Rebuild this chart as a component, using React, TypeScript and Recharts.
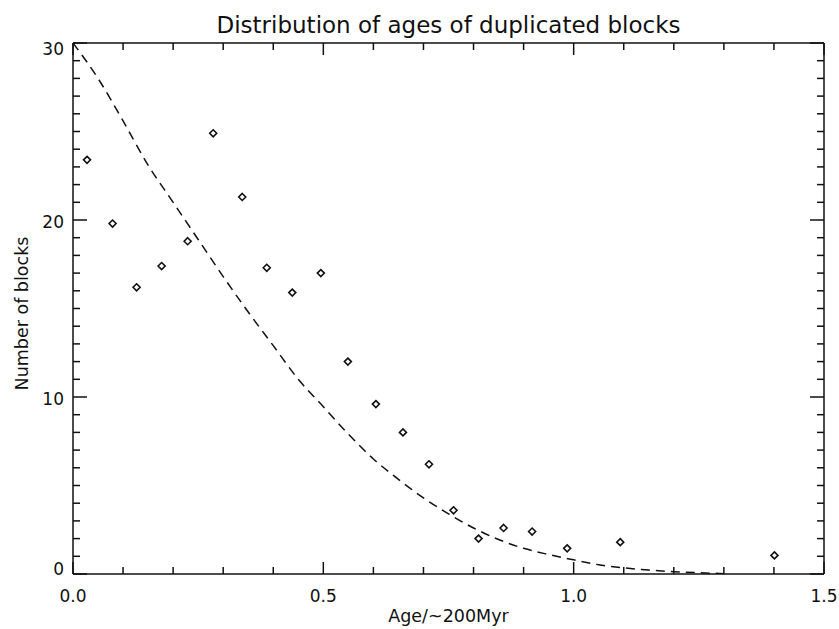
import { ComposedChart, Line, Scatter, XAxis, YAxis, Label } from 'recharts';

// measured histogram points (age bin centre, number of blocks)
const ageBins = [0.028, 0.079, 0.127, 0.177, 0.229, 0.28, 0.338, 0.387, 0.438, 0.495, 0.549, 0.605, 0.659, 0.711, 0.76, 0.81, 0.86, 0.917, 0.987, 1.093, 1.401];
const blockCounts = [23.4, 19.8, 16.2, 17.4, 18.8, 24.9, 21.3, 17.3, 15.9, 17.0, 12.0, 9.6, 8.0, 6.2, 3.6, 2.0, 2.6, 2.4, 1.45, 1.8, 1.05];

// dashed model curve
const fitAges = [0, 0.05, 0.1, 0.15, 0.2, 0.25, 0.3, 0.35, 0.4, 0.45, 0.5, 0.55, 0.6, 0.65, 0.7, 0.75, 0.8, 0.85, 0.9, 0.95, 1.0, 1.05, 1.1, 1.15, 1.2, 1.25, 1.3];
const fitCounts = [30, 28.0, 25.6, 23.1, 21.0, 18.9, 16.8, 14.8, 12.9, 11.0, 9.45, 7.9, 6.5, 5.35, 4.3, 3.4, 2.6, 1.95, 1.45, 1.1, 0.8, 0.52, 0.35, 0.22, 0.13, 0.07, 0.02];

const xTicks = [0, 0.1, 0.2, 0.3, 0.4, 0.5, 0.6, 0.7, 0.8, 0.9, 1.0, 1.1, 1.2, 1.3, 1.4, 1.5];
const yTicks = [0, 1, 2, 3, 4, 5, 6, 7, 8, 9, 10, 11, 12, 13, 14, 15, 16, 17, 18, 19, 20, 21, 22, 23, 24, 25, 26, 27, 28, 29, 30];

const points = ageBins.map((x, i) => ({ x, y: blockCounts[i] }));
const fit = fitAges.map((x, i) => ({ x, y: fitCounts[i] }));

const FONT = '"DejaVu Sans", sans-serif';
const INK = '#111';

const isMajorX = (v: number) => Math.abs(v * 2 - Math.round(v * 2)) < 1e-6;
const isMajorY = (v: number) => v % 10 === 0;

// IDL style: ticks point into the plot box
const BottomTick = ({ x, y, payload }: any) => {
  const major = isMajorX(payload.value);
  return (
    <g>
      <line x1={x} x2={x} y1={y} y2={y - (major ? 12 : 7)} stroke={INK} strokeWidth={1.5} />
      {major && (
        <text x={x} y={y + 28} textAnchor="middle" fontFamily={FONT} fontSize={17} fill={INK}>
          {payload.value.toFixed(1)}
        </text>
      )}
    </g>
  );
};

const TopTick = ({ x, y, payload }: any) => {
  const major = isMajorX(payload.value);
  return <line x1={x} x2={x} y1={y} y2={y + (major ? 12 : 7)} stroke={INK} strokeWidth={1.5} />;
};

const LeftTick = ({ x, y, payload }: any) => {
  const major = isMajorY(payload.value);
  const dy = payload.value === 0 ? 1 : payload.value === 30 ? 12 : 7.5;
  return (
    <g>
      <line x1={x} x2={x + (major ? 14 : 7)} y1={y} y2={y} stroke={INK} strokeWidth={1.5} />
      {major && (
        <text x={x - 9} y={y + dy} textAnchor="end" fontFamily={FONT} fontSize={17} fill={INK}>
          {payload.value}
        </text>
      )}
    </g>
  );
};

const RightTick = ({ x, y, payload }: any) => {
  const major = isMajorY(payload.value);
  return <line x1={x} x2={x - (major ? 14 : 7)} y1={y} y2={y} stroke={INK} strokeWidth={1.5} />;
};

const Diamond = ({ cx, cy }: any) => (
  <path
    d={`M${cx},${cy - 3.5} L${cx + 3.5},${cy} L${cx},${cy + 3.5} L${cx - 3.5},${cy} Z`}
    fill="#fff"
    stroke={INK}
    strokeWidth={1.6}
  />
);

export default function App() {
  return (
    <div style={{ position: 'absolute', left: 0, top: 0, width: 839, height: 629, background: '#fff' }}>
      <ComposedChart width={839} height={629} margin={{ top: 0, right: 0, bottom: 0, left: 0 }}>
        <XAxis
          xAxisId="bottom"
          type="number"
          dataKey="x"
          orientation="bottom"
          domain={[0, 1.5]}
          allowDataOverflow
          ticks={xTicks}
          interval={0}
          height={55}
          tickSize={0}
          tickMargin={0}
          tickLine={false}
          tick={BottomTick}
          axisLine={{ stroke: INK, strokeWidth: 1.5 }}
        >
          <Label
            content={({ viewBox }: any) => (
              <text x={viewBox.x + viewBox.width / 2} y={viewBox.y + 48} textAnchor="middle" fontFamily={FONT} fontSize={17.5} fill={INK}>
                Age/~200Myr
              </text>
            )}
          />
        </XAxis>
        <XAxis
          xAxisId="top"
          type="number"
          dataKey="x"
          orientation="top"
          domain={[0, 1.5]}
          allowDataOverflow
          ticks={xTicks}
          interval={0}
          height={43}
          tickSize={0}
          tickMargin={0}
          tickLine={false}
          tick={TopTick}
          axisLine={{ stroke: INK, strokeWidth: 1.5 }}
        >
          <Label
            content={({ viewBox }: any) => (
              <text x={viewBox.x + viewBox.width / 2} y={33} textAnchor="middle" fontFamily={FONT} fontSize={23} fill={INK}>
                Distribution of ages of duplicated blocks
              </text>
            )}
          />
        </XAxis>
        <YAxis
          yAxisId="left"
          type="number"
          orientation="left"
          domain={[0, 30]}
          allowDataOverflow
          ticks={yTicks}
          interval={0}
          width={73}
          tickSize={0}
          tickMargin={0}
          tickLine={false}
          tick={LeftTick}
          axisLine={{ stroke: INK, strokeWidth: 1.5 }}
        >
          <Label
            content={({ viewBox }: any) => {
              const cy = viewBox.y + viewBox.height / 2 + 5;
              return (
                <text x={28} y={cy} transform={`rotate(-90 28 ${cy})`} textAnchor="middle" fontFamily={FONT} fontSize={17.5} fill={INK}>
                  Number of blocks
                </text>
              );
            }}
          />
        </YAxis>
        <YAxis
          yAxisId="right"
          type="number"
          orientation="right"
          domain={[0, 30]}
          allowDataOverflow
          ticks={yTicks}
          interval={0}
          width={15}
          tickSize={0}
          tickMargin={0}
          tickLine={false}
          tick={RightTick}
          axisLine={{ stroke: INK, strokeWidth: 1.5 }}
        />
        <Line
          data={fit}
          xAxisId="top"
          yAxisId="right"
          dataKey="y"
          type="monotone"
          stroke={INK}
          strokeWidth={1.5}
          strokeDasharray="9 6"
          dot={false}
          isAnimationActive={false}
        />
        <Scatter
          data={points}
          xAxisId="bottom"
          yAxisId="left"
          dataKey="y"
          shape={Diamond}
          isAnimationActive={false}
        />
      </ComposedChart>
    </div>
  );
}
